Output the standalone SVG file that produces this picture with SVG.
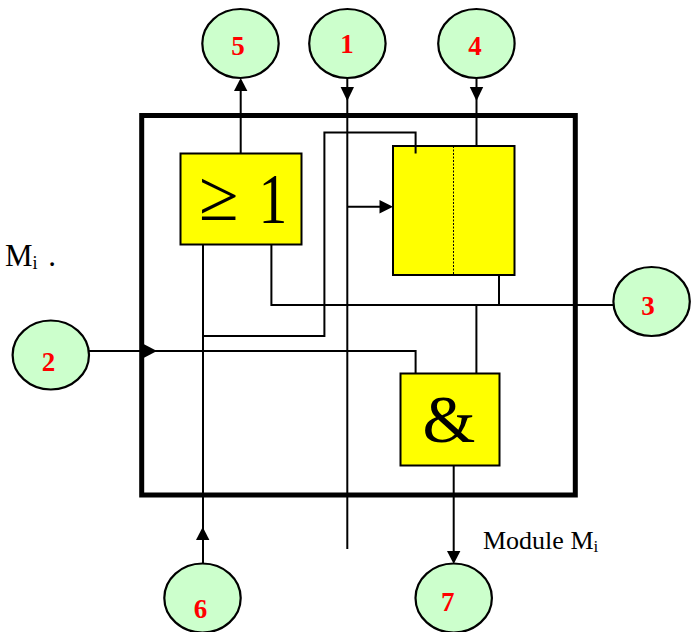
<svg xmlns="http://www.w3.org/2000/svg" width="698" height="632" viewBox="0 0 698 632">
<style>
.w{fill:none;stroke:#000;stroke-width:2}
.a{fill:#000;stroke:none}
.c{fill:#ccffcc;stroke:#000;stroke-width:2.2}
.b{fill:#ffff00;stroke:#000;stroke-width:2}
.n{font-family:"Liberation Serif",serif;font-weight:bold;font-size:27px;fill:#ff0000;text-anchor:middle}
.t{font-family:"Liberation Serif",serif;fill:#000}
</style>
<rect width="698" height="632" fill="#fff"/>
<g id="frame"><rect x="141.7" y="115.5" width="433.6" height="379.5" fill="none" stroke="#000" stroke-width="5"/></g>
<g id="block-or"><rect class="b" x="180.5" y="153.5" width="121" height="91"/>
<text class="t" x="199" y="219.5" font-size="72">≥</text><text class="t" transform="translate(258.5 222.5) scale(.8 1)" font-size="72">1</text></g>
<g id="block-memory"><rect class="b" x="393" y="146" width="121.5" height="129"/>
<path d="M453.5 146V275" fill="none" stroke="#000" stroke-width="1" stroke-dasharray="2 1.5"/></g>
<g id="block-and"><rect class="b" x="400.5" y="373.5" width="99" height="92"/>
<text class="t" x="449" y="442" font-size="68" text-anchor="middle">&amp;</text></g>
<g id="connectors">
<path class="w" d="M240.7 153V85"/>
<path class="w" d="M347.3 78V549"/>
<path class="w" d="M476.5 78V146"/>
<path class="w" d="M203 245V563"/>
<path class="w" d="M203 336H324.4V132.6H415.6V153.5"/>
<path class="w" d="M89 351H415.6V373"/>
<path class="w" d="M271.4 245V305H613"/>
<path class="w" d="M499 275V305"/>
<path class="w" d="M476.4 305V373"/>
<path class="w" d="M453.7 466V553"/>
<path class="w" d="M347.3 206.7H382"/>
<path class="a" d="M240.7 78L234 91H247.4Z"/>
<path class="a" d="M347.3 101L340.6 87H354Z"/>
<path class="a" d="M476.5 101L469.8 87H483.2Z"/>
<path class="a" d="M393 206.7L379.5 200V213.4Z"/>
<path class="a" d="M157 351L143.5 344V358Z"/>
<path class="a" d="M202.7 527L196 540H209.4Z"/>
<path class="a" d="M453.7 564L447 551H460.4Z"/>
</g>
<g id="node-5"><ellipse class="c" cx="240.5" cy="43.5" rx="38.2" ry="34.5"/><text class="n" x="238" y="55">5</text></g>
<g id="node-1"><ellipse class="c" cx="347.4" cy="43.5" rx="38.2" ry="34.5"/><text class="n" x="347" y="53">1</text></g>
<g id="node-4"><ellipse class="c" cx="476.4" cy="43.5" rx="38.2" ry="34.5"/><text class="n" x="475" y="55">4</text></g>
<g id="node-2"><ellipse class="c" cx="50.8" cy="355" rx="38.2" ry="34.5"/><text class="n" x="48.5" y="371">2</text></g>
<g id="node-3"><ellipse class="c" cx="651.6" cy="301.5" rx="38.2" ry="34.5"/><text class="n" x="648" y="315">3</text></g>
<g id="node-6"><ellipse class="c" cx="202.5" cy="598" rx="38.2" ry="34.5"/><text class="n" x="200.5" y="618">6</text></g>
<g id="node-7"><ellipse class="c" cx="453.7" cy="598" rx="38.2" ry="34.5"/><text class="n" x="447.7" y="611">7</text></g>
<text class="t" x="5" y="266" font-size="31">M<tspan font-size="18" dy="3">i</tspan><tspan dx="3" dy="-3"> .</tspan></text>
<text class="t" x="483" y="549" font-size="26">Module M<tspan font-size="17" dy="3">i</tspan></text>
</svg>
